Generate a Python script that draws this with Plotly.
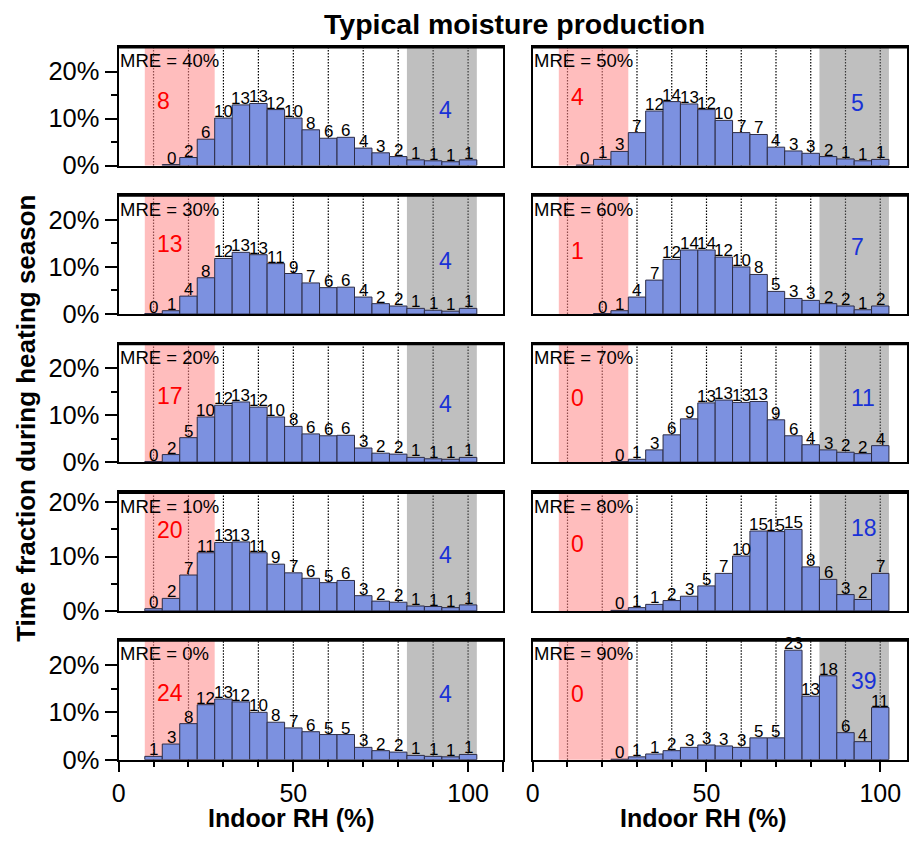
import plotly.graph_objects as go

W, H = 909, 851
FONT = "Liberation Sans, Arial, Helvetica, sans-serif"

# 5 %-wide indoor RH bins (bin centres)
rh_bins = [10, 15, 20, 25, 30, 35, 40, 45, 50, 55, 60, 65, 70, 75, 80, 85, 90, 95, 100]

# Time fraction (%) of the heating season spent in each RH bin, per MRE level.
# None marks bins that were never reached.
share_mre00 = [0.7, 3.3, 7.6, 11.6, 12.8, 12.2, 10.0, 7.9, 6.7, 5.9, 5.3, 5.3, 2.6, 1.9, 1.6, 0.9, 0.7, 0.6, 1.1]
share_mre10 = [0.4, 2.3, 6.6, 10.7, 12.6, 12.7, 10.7, 8.6, 7.0, 6.0, 5.2, 5.6, 2.8, 1.8, 1.6, 0.9, 0.8, 0.6, 1.1]
share_mre20 = [0.1, 1.6, 5.2, 9.6, 12.1, 12.8, 11.7, 9.6, 7.6, 6.0, 5.6, 5.7, 3.0, 1.9, 1.7, 1.0, 0.7, 0.6, 1.0]
share_mre30 = [0.1, 0.7, 3.8, 7.7, 11.8, 13.1, 12.6, 10.7, 8.6, 6.6, 5.6, 5.7, 3.6, 2.2, 1.7, 1.2, 0.8, 0.6, 1.2]
share_mre40 = [None, 0.2, 1.7, 5.6, 10.1, 12.9, 13.2, 11.9, 10.1, 7.6, 5.8, 6.0, 3.7, 2.7, 1.9, 1.2, 1.0, 0.8, 1.2]
share_mre50 = [None, 0.1, 1.3, 3.0, 7.0, 11.6, 13.6, 13.1, 11.9, 9.6, 7.0, 6.6, 3.9, 3.1, 2.6, 1.9, 1.4, 1.0, 1.3]
share_mre60 = [None, None, 0.1, 0.7, 3.6, 7.2, 11.6, 13.6, 13.6, 12.1, 10.0, 8.4, 4.8, 3.3, 2.9, 2.2, 1.7, 0.9, 1.7]
share_mre70 = [None, None, None, 0.1, 0.6, 2.6, 5.8, 9.2, 12.6, 13.2, 12.7, 12.9, 9.0, 5.6, 3.7, 2.6, 2.1, 1.8, 3.5]
share_mre80 = [None, None, None, 0.1, 0.6, 1.2, 1.9, 2.7, 4.6, 6.9, 10.1, 14.7, 14.6, 15.0, 8.1, 5.8, 3.0, 2.1, 6.9]
share_mre90 = [None, None, None, 0.1, 0.6, 1.2, 1.9, 2.6, 3.1, 2.9, 2.6, 4.6, 4.6, 23.1, 13.4, 17.7, 5.7, 3.8, 11.0]

# Total time (%) below 27.5 % RH (dry zone) and above 82.5 % RH (humid zone)
dry_total = {0: 24, 10: 20, 20: 17, 30: 13, 40: 8, 50: 4, 60: 1, 70: 0, 80: 0, 90: 0}
humid_total = {0: 4, 10: 4, 20: 4, 30: 4, 40: 4, 50: 5, 60: 7, 70: 11, 80: 18, 90: 39}

# RH limits of the shaded zones
dry_zone = (7.5, 27.5)
humid_zone = (82.5, 102.5)
grid_rh = [10, 20, 30, 40, 50, 60, 70, 80, 90, 100]

# panel layout: (row, col, MRE, data)
panels = [
    (0, 0, 40, share_mre40), (1, 0, 30, share_mre30), (2, 0, 20, share_mre20),
    (3, 0, 10, share_mre10), (4, 0, 0, share_mre00),
    (0, 1, 50, share_mre50), (1, 1, 60, share_mre60), (2, 1, 70, share_mre70),
    (3, 1, 80, share_mre80), (4, 1, 90, share_mre90),
]

# plot-area geometry in pixels
col_px = [(112.7, 501.0), (531.0, 909.0)]
col_xmax = [110, 107.7]
row_px = [(44, 165), (195.5, 316.7), (347, 468), (499, 620), (650, 772)]
row_ymax = [25.2, 25.2, 25.2, 21.8, 25.2]
# heights (%) at which the zone totals are written, per (row, col)
zone_label_y = {
    (0, 0): (13.8, 11.8), (1, 0): (14.8, 11.3), (2, 0): (14.0, 12.4), (3, 0): (14.8, 10.3), (4, 0): (14.0, 13.8),
    (0, 1): (14.5, 13.4), (1, 1): (13.4, 14.2), (2, 1): (13.6, 13.6), (3, 1): (12.3, 15.3), (4, 1): (13.8, 16.5),
}


def fx(p):
    return p / W


def fy(p):
    return 1 - p / H


fig = go.Figure()
shapes, annotations = [], []
layout = {}

for k, (row, col, mre, share) in enumerate(panels, start=1):
    sfx = "" if k == 1 else str(k)
    xa, ya = f"x{sfx}", f"y{sfx}"
    xs = [x for x, v in zip(rh_bins, share) if v is not None]
    vs = [v for v in share if v is not None]
    fig.add_trace(go.Bar(
        x=xs, y=vs, width=5, xaxis=xa, yaxis=ya,
        marker=dict(color="rgb(124,145,224)", line=dict(color="rgb(45,45,70)", width=1)),
        showlegend=False, hoverinfo="skip",
    ))
    # rounded value written on top of each bar
    for x, v in zip(xs, vs):
        annotations.append(dict(xref=xa, yref=ya, x=x, y=v, text=f"{v:.0f}", showarrow=False,
                                xanchor="center", yanchor="bottom", yshift=-5,
                                font=dict(size=17, family=FONT, color="black")))

    x0, x1 = col_px[col]
    y0, y1 = row_px[row]
    bottom = row == 4
    left = col == 0
    layout[f"xaxis{sfx}"] = dict(
        domain=[fx(x0), fx(x1)], anchor=ya, range=[0, col_xmax[col]],
        showline=True, linecolor="black", linewidth=2, mirror=True,
        showgrid=False, zeroline=False,
        tickvals=[0, 50, 100, 110] if bottom else [], ticktext=["0", "50", "100", ""] if bottom else [],
        ticks="outside" if bottom else "",
        ticklen=10, tickwidth=1.5, tickcolor="black",
        minor=dict(tickvals=grid_rh, ticks="outside" if bottom else "", ticklen=5,
                   tickwidth=1.5, tickcolor="black"),
        showticklabels=bottom, tickfont=dict(size=25, family=FONT, color="black"),
    )
    layout[f"yaxis{sfx}"] = dict(
        domain=[fy(y1), fy(y0)], anchor=xa, range=[0, row_ymax[row]],
        showline=True, linecolor="black", linewidth=2, mirror=True,
        showgrid=False, zeroline=False,
        tickvals=[0, 10, 20] if left else [], ticktext=["0%", "10%", "20%"] if left else [],
        ticks="outside" if left else "",
        ticklen=12, tickwidth=1.5, tickcolor="black",
        minor=dict(tickvals=[5, 15], ticks="outside" if left else "", ticklen=6, tickwidth=1.5,
                   tickcolor="black"),
        showticklabels=left, tickfont=dict(size=25.5, family=FONT, color="black"),
    )

    # dotted reference lines, then the translucent zones over them
    for g in grid_rh:
        shapes.append(dict(type="line", xref=xa, yref=f"{ya} domain", x0=g, x1=g, y0=0, y1=1,
                           line=dict(color="black", width=1.2, dash="1.5px,1.5px"), layer="below"))
    shapes.append(dict(type="rect", xref=xa, yref=f"{ya} domain", x0=dry_zone[0], x1=dry_zone[1],
                       y0=0, y1=1, fillcolor="rgba(255,135,135,0.55)", line=dict(width=0), layer="below"))
    shapes.append(dict(type="rect", xref=xa, yref=f"{ya} domain", x0=humid_zone[0], x1=humid_zone[1],
                       y0=0, y1=1, fillcolor="rgba(120,120,120,0.47)", line=dict(width=0), layer="below"))
    # heavier top edge of the frame
    shapes.append(dict(type="line", xref=f"{xa} domain", yref=f"{ya} domain", x0=0, x1=1, y0=1, y1=1,
                       line=dict(color="black", width=3)))

    annotations.append(dict(xref=f"{xa} domain", yref=f"{ya} domain", x=0.0, y=0.99, xshift=-1,
                            xanchor="left", yanchor="top", showarrow=False,
                            text=f"MRE = {mre}%", font=dict(size=18.5, family=FONT, color="black")))
    red_y, blue_y = zone_label_y[(row, col)]
    annotations.append(dict(xref=xa, yref=ya, x=10.5, y=red_y, xanchor="left", yanchor="middle",
                            showarrow=False, text=str(dry_total[mre]),
                            font=dict(size=23, family=FONT, color="rgb(255,0,0)")))
    annotations.append(dict(xref=xa, yref=ya, x=91, y=blue_y, xanchor="left", yanchor="middle",
                            showarrow=False, text=str(humid_total[mre]),
                            font=dict(size=23, family=FONT, color="rgb(25,50,215)")))

# titles
annotations.append(dict(xref="paper", yref="paper", x=fx(513), y=fy(20), xanchor="center", yanchor="middle",
                        showarrow=False, text="<b>Typical moisture production</b>",
                        font=dict(size=28.5, family=FONT, color="black")))
for cx in (287, 703):
    annotations.append(dict(xref="paper", yref="paper", x=fx(cx), y=fy(832), xanchor="center", yanchor="middle",
                            showarrow=False, text="<b>Indoor RH (%)</b>",
                            font=dict(size=25, family=FONT, color="black")))
annotations.append(dict(xref="paper", yref="paper", x=fx(19), y=fy(423), xanchor="center", yanchor="middle",
                        showarrow=False, text="<b>Time fraction during heating season</b>", textangle=-90,
                        font=dict(size=26, family=FONT, color="black")))

fig.update_layout(
    width=W, height=H, margin=dict(l=0, r=0, t=0, b=0),
    paper_bgcolor="white", plot_bgcolor="white",
    barmode="overlay", shapes=shapes, annotations=annotations,
    font=dict(family=FONT, color="black"),
    **layout,
)

fig.write_html("out.html")
